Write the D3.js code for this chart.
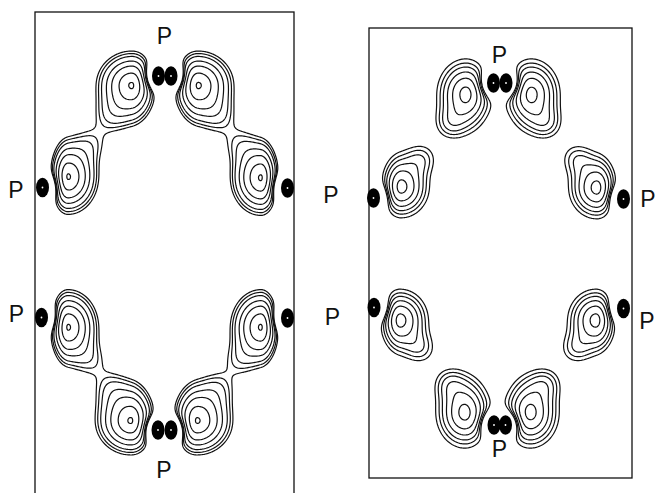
<!DOCTYPE html>
<html>
<head>
<meta charset="utf-8">
<script src="https://cdn.jsdelivr.net/npm/d3@7"></script>
<style>
  html, body { margin: 0; padding: 0; background: #fff; }
  svg { display: block; }
</style>
</head>
<body>
<svg id="chart" width="655" height="493"></svg>
<script>
// Two electron-density difference maps of a cell section (units: Å, origin at the
// top-left corner of each cell, y running downwards). Each density lobe is a split
// Gaussian: [x, y, sigmaLeft, sigmaRight, sigmaUp, sigmaDown, amplitude].

// ---- Map A (left) ----
const cellA = [5.18, 9.66];
const lobesA = [
  [1.94, 1.46, 0.42, 0.28, 0.40, 0.46, 1],
  [3.26, 1.46, 0.28, 0.42, 0.40, 0.46, 1],
  [0.66, 3.30, 0.21, 0.36, 0.45, 0.44, 1],
  [4.52, 3.32, 0.36, 0.21, 0.45, 0.44, 1],
  [0.66, 6.30, 0.21, 0.36, 0.44, 0.45, 1],
  [4.52, 6.30, 0.36, 0.21, 0.44, 0.45, 1],
  [1.92, 8.18, 0.42, 0.28, 0.46, 0.40, 1],
  [3.24, 8.18, 0.28, 0.42, 0.46, 0.40, 1]
];
// low-density skirts around the lobes: [x, y, sigmaAlong, sigmaAcross, angleDeg, amplitude]
const skirtsA = [
  [1.50, 2.10, 0.26, 0.26, 0, 0.20],
  [1.14, 2.62, 0.26, 0.26, 0, 0.20],
  [3.70, 2.10, 0.26, 0.26, 0, 0.20],
  [4.06, 2.62, 0.26, 0.26, 0, 0.20],
  [1.14, 6.98, 0.26, 0.26, 0, 0.20],
  [1.50, 7.50, 0.26, 0.26, 0, 0.20],
  [4.06, 6.98, 0.26, 0.26, 0, 0.20],
  [3.68, 7.50, 0.26, 0.26, 0, 0.20]
];
// P atom sites
const atomsA = [
  [2.47, 1.28], [2.72, 1.28],
  [0.15, 3.51], [5.05, 3.52],
  [0.13, 6.11], [5.05, 6.12],
  [2.46, 8.36], [2.72, 8.36]
];
const labelsA = [
  [2.59, 0.47], [-0.38, 3.55], [-0.37, 6.03], [2.58, 9.16]
];
// contour levels, as fractions of the map maximum
const levelsA = [0.99, 0.835, 0.637, 0.487, 0.36, 0.29, 0.236];

// ---- Map B (right) ----
const cellB = [5.26, 9.00];
const lobesB = [
  [1.94, 1.32, 0.34, 0.30, 0.41, 0.44, 1],
  [3.24, 1.32, 0.30, 0.34, 0.41, 0.44, 1],
  [0.64, 3.18, 0.23, 0.33, 0.39, 0.36, 1],
  [4.56, 3.20, 0.33, 0.23, 0.39, 0.36, 1],
  [0.62, 5.84, 0.23, 0.33, 0.36, 0.39, 1],
  [4.54, 5.84, 0.33, 0.23, 0.36, 0.39, 1],
  [1.92, 7.70, 0.34, 0.30, 0.44, 0.41, 1],
  [3.22, 7.70, 0.30, 0.34, 0.44, 0.41, 1]
];
const skirtsB = [
  [1.62, 1.92, 0.22, 0.22, 0, 0.30],
  [3.56, 1.92, 0.22, 0.22, 0, 0.30],
  [1.06, 2.60, 0.22, 0.22, 0, 0.30],
  [4.14, 2.60, 0.22, 0.22, 0, 0.30],
  [1.04, 6.42, 0.22, 0.22, 0, 0.30],
  [4.12, 6.42, 0.22, 0.22, 0, 0.30],
  [1.60, 7.10, 0.22, 0.22, 0, 0.30],
  [3.54, 7.10, 0.22, 0.22, 0, 0.30]
];
const atomsB = [
  [2.49, 1.10], [2.74, 1.10],
  [0.09, 3.40], [5.09, 3.42],
  [0.10, 5.59], [5.09, 5.61],
  [2.50, 7.94], [2.73, 7.94]
];
const labelsB = [
  [2.61, 0.54], [-0.76, 3.34], [5.58, 3.42], [-0.73, 5.77], [5.56, 5.86], [2.61, 8.42]
];
const levelsB = [0.94, 0.74, 0.56, 0.42, 0.32, 0.23];

const atomLabel = "P";

// depletion of density right at the P sites
const REPEL_AMP = 0.8, REPEL_SIGMA = 0.16;
const STEP = 0.02; // grid spacing in Å

const svg = d3.select("#chart");
const INK = "#111";

function density(px, py, lobes, skirts, atoms) {
  let v = 0;
  for (const [x, y, sl, sr, su, sd, a] of lobes) {
    const dx = px - x, dy = py - y;
    const sx = dx < 0 ? sl : sr, sy = dy < 0 ? su : sd;
    v += a * Math.exp(-0.5 * (dx * dx / (sx * sx) + dy * dy / (sy * sy)));
  }
  for (const [x, y, s1, s2, ang, a] of skirts) {
    const t = ang * Math.PI / 180, c = Math.cos(t), s = Math.sin(t);
    const dx = px - x, dy = py - y;
    const u = dx * c + dy * s, w = -dx * s + dy * c;
    v += a * Math.exp(-0.5 * (u * u / (s1 * s1) + w * w / (s2 * s2)));
  }
  for (const [x, y] of atoms) {
    const dx = px - x, dy = py - y;
    v -= REPEL_AMP * Math.exp(-0.5 * (dx * dx + dy * dy) / (REPEL_SIGMA * REPEL_SIGMA));
  }
  return v;
}

function drawMap(cell, lobes, skirts, atoms, labels, levels, box) {
  const [a, c] = cell;
  const x = d3.scaleLinear().domain([0, a]).range([box.x0, box.x1]);
  const y = d3.scaleLinear().domain([0, c]).range([box.y0, box.y1]);
  const g = svg.append("g");

  // sample the density on a regular grid
  const nx = Math.ceil(a / STEP) + 1, ny = Math.ceil(c / STEP) + 1;
  const values = new Float64Array(nx * ny);
  let vmax = -Infinity;
  for (let j = 0; j < ny; j++) {
    for (let i = 0; i < nx; i++) {
      const v = density(i * STEP, j * STEP, lobes, skirts, atoms);
      values[j * nx + i] = v;
      if (v > vmax) vmax = v;
    }
  }
  const contours = d3.contours()
    .size([nx, ny])
    .thresholds(levels.map(l => l * vmax))(values);

  // grid coordinates -> Å -> screen
  const proj = d3.geoTransform({
    point(px, py) { this.stream.point(x((px - 0.5) * STEP), y((py - 0.5) * STEP)); }
  });
  const path = d3.geoPath(proj);

  // cell outline
  g.append("rect")
    .attr("x", x(0)).attr("y", y(0))
    .attr("width", x(a) - x(0)).attr("height", y(c) - y(0))
    .attr("fill", "none").attr("stroke", INK).attr("stroke-width", 1.3);

  g.selectAll("path.iso").data(contours).join("path")
    .attr("class", "iso")
    .attr("d", path)
    .attr("fill", "none")
    .attr("stroke", INK)
    .attr("stroke-width", 1.2)
    .attr("stroke-linejoin", "round");

  g.selectAll("ellipse.atom").data(atoms).join("ellipse")
    .attr("class", "atom")
    .attr("cx", d => x(d[0])).attr("cy", d => y(d[1]))
    .attr("rx", 6.5).attr("ry", 9.8)
    .attr("fill", "#000");
  g.selectAll("circle.core").data(atoms).join("circle")
    .attr("class", "core")
    .attr("cx", d => x(d[0])).attr("cy", d => y(d[1]))
    .attr("r", 0.9).attr("fill", "#fff");

  g.selectAll("text.lab").data(labels).join("text")
    .attr("class", "lab")
    .attr("x", d => x(d[0])).attr("y", d => y(d[1]))
    .attr("dy", "0.36em")
    .attr("text-anchor", "middle")
    .attr("font-family", "'Liberation Sans', Arial, sans-serif")
    .attr("font-size", 23)
    .attr("fill", INK)
    .text(atomLabel);
}

drawMap(cellA, lobesA, skirtsA, atomsA, labelsA, levelsA, { x0: 35, x1: 294, y0: 12, y1: 495 });
drawMap(cellB, lobesB, skirtsB, atomsB, labelsB, levelsB, { x0: 369, x1: 632, y0: 28, y1: 478 });
</script>
</body>
</html>
